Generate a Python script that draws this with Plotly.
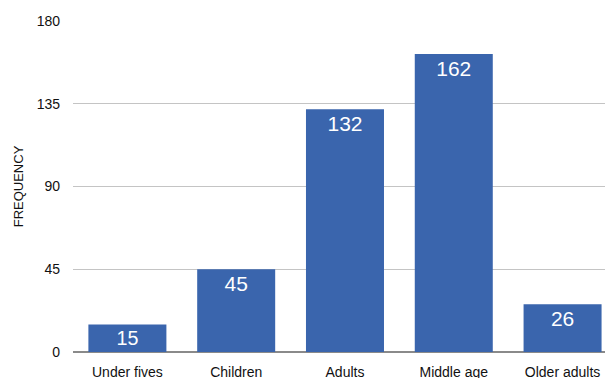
import plotly.graph_objects as go

categories = ["Under fives", "Children", "Adults", "Middle age", "Older adults"]
values = [15, 45, 132, 162, 26]
y_ticks = [0, 45, 90, 135, 180]

fig = go.Figure(go.Bar(
    x=categories, y=values,
    text=[str(v) for v in values],
    textposition="inside", insidetextanchor="end",
    textfont=dict(color="white", size=21, family="Liberation Sans, Arial, sans-serif"),
    marker=dict(color="#3a65ad", line=dict(width=0)),
    cliponaxis=False,
))

fig.update_layout(
    width=605, height=378,
    margin=dict(l=73, r=0, t=21, b=26, autoexpand=False),
    paper_bgcolor="white", plot_bgcolor="white",
    bargap=0.283,
    showlegend=False,
    font=dict(family="Liberation Sans, Arial, sans-serif", color="#111111"),
)
fig.update_xaxes(
    range=[-0.5, 4.39], showgrid=False, showline=False, ticks="",
    tickfont=dict(size=14, color="#111111"), ticklabelstandoff=10,
    automargin=False,
)
fig.update_yaxes(
    range=[0, 180], tickvals=y_ticks, ticktext=[str(t) for t in y_ticks],
    showgrid=True, gridcolor="#c4c4c4", gridwidth=1,
    zeroline=True, zerolinecolor="#8a8a8a", zerolinewidth=1.5,
    showline=False, ticks="", tickfont=dict(size=14, color="#111111"),
    ticklabelstandoff=12, automargin=False,
    title=dict(text="FREQUENCY", font=dict(size=13, color="#111111"), standoff=10),
)

fig.write_html("out.html")
